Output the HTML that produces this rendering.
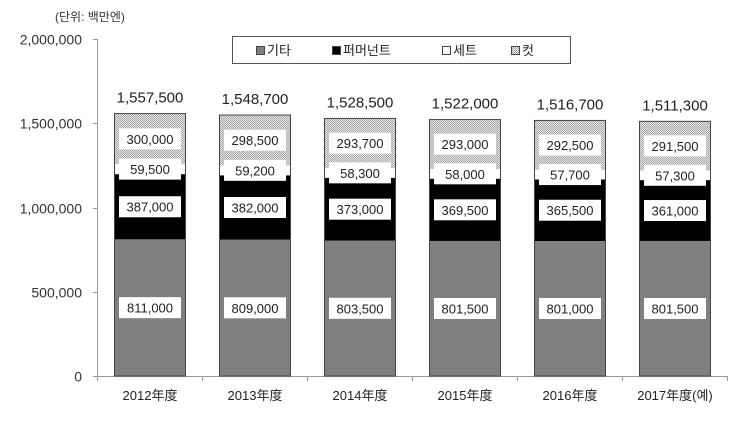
<!DOCTYPE html>
<html><head><meta charset="utf-8"><style>
html,body{margin:0;padding:0;background:#fff}
svg{display:block}
text{font-family:"Liberation Sans","Noto Sans CJK KR",sans-serif}
</style></head><body>
<svg id="c" width="740" height="439" xmlns="http://www.w3.org/2000/svg">
<defs>
<pattern id="h" width="2" height="2" patternUnits="userSpaceOnUse">
<rect width="2" height="2" fill="#e4e4e4"/><rect width="1" height="1" fill="#a8a8a8"/><rect x="1" y="1" width="1" height="1" fill="#a8a8a8"/>
</pattern>
</defs>
</svg>
<script>
const s=document.getElementById('c');const NS='http://www.w3.org/2000/svg';
function el(t,a,txt){const e=document.createElementNS(NS,t);for(const k in a)e.setAttribute(k,a[k]);if(txt!=null)e.textContent=txt;s.appendChild(e);return e;}
const Y=v=>376-v*0.0001685;
// axes
el('line',{x1:97.5,y1:39,x2:97.5,y2:377,stroke:'#999'});
el('line',{x1:97,y1:376.5,x2:728,y2:376.5,stroke:'#999'});
[0,500000,1000000,1500000,2000000].forEach(v=>{const y=Math.round(Y(v))+0.5;
el('line',{x1:93,y1:y,x2:97,y2:y,stroke:'#999'});
el('text',{x:82,y:y+5,'text-anchor':'end','font-size':14,fill:'#333'},v===0?'0':v.toLocaleString('en-US'));});
for(let i=0;i<=6;i++){const x=97.5+i*105;el('line',{x1:x,y1:376,x2:x,y2:381,stroke:'#999'});}
el('text',{x:55,y:21,'font-size':12,fill:'#333'},'(단위: 백만엔)');
const d=[[811000,387000,59500,300000,'1,557,500','2012年度'],[809000,382000,59200,298500,'1,548,700','2013年度'],[803500,373000,58300,293700,'1,528,500','2014年度'],[801500,369500,58000,293000,'1,522,000','2015年度'],[801000,365500,57700,292500,'1,516,700','2016年度'],[801500,361000,57300,291500,'1,511,300','2017年度(예)']];
const fills=['#808080','#000','#fff','url(#h)'];
d.forEach((r,i)=>{const x=114+i*105,w=72,cx=x+36;let cum=0;const mids=[];
for(let k=0;k<4;k++){const y0=Y(cum),y1=Y(cum+r[k]);cum+=r[k];
el('rect',{x:x,y:y1,width:w,height:y0-y1,fill:fills[k]});mids.push((y0+y1)/2);}
el('rect',{x:x+0.5,y:Y(cum),width:w-1,height:376-Y(cum),fill:'none',stroke:'#444','stroke-width':1});
for(let k=0;k<4;k++){const lw=62,lh=21;
el('rect',{x:cx-lw/2,y:mids[k]-lh/2,width:lw,height:lh,fill:'#fff'});
el('text',{x:cx,y:mids[k]+5,'text-anchor':'middle','font-size':13,fill:'#222'},r[k].toLocaleString('en-US'));}
el('text',{x:cx,y:Y(cum)-11,'text-anchor':'middle','font-size':15,fill:'#222'},r[4]);
el('text',{x:cx,y:400,'text-anchor':'middle','font-size':13,fill:'#222'},r[5]);
});
// legend
el('rect',{x:232.5,y:36.5,width:338,height:27,fill:'#fff',stroke:'#555'});
const L=[[256,'#808080','기타'],[332,'#000','퍼머넌트'],[442,'#fff','세트'],[511,'url(#h)','컷']];
L.forEach(l=>{el('rect',{x:l[0]+0.5,y:46.5,width:8,height:8,fill:l[1],stroke:'#444'});
el('text',{x:l[0]+11,y:55,'font-size':13,fill:'#222'},l[2]);});
</script>
</body></html>
